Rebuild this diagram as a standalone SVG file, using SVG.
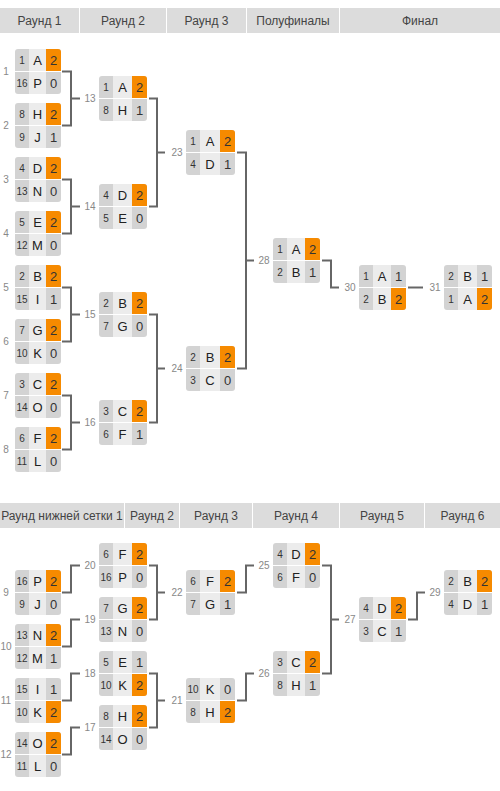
<svg xmlns="http://www.w3.org/2000/svg" width="500" height="791" viewBox="0 0 500 791">
<style>
text{font-family:"Liberation Sans",Arial,sans-serif}
.hb{fill:#dcdcdc}
.h{font-size:12px;fill:#444;text-anchor:middle}
.bg{fill:#d3d3d3}
.nm{fill:#ececec}
.win{fill:#f68a00}
.sep{fill:#fff}
.s{font-size:10px;fill:#333;text-anchor:middle}
.n{font-size:13px;fill:#222;text-anchor:middle}
.c{font-size:13px;fill:#333;text-anchor:middle}
.l{font-size:10px;fill:#888;text-anchor:middle}
.cn{fill:none;stroke:#666;stroke-width:2}
</style>
<rect width="500" height="791" fill="#fff"/>
<g id="header-upper">
<rect class="hb" x="0" y="8" width="79" height="25"/>
<rect class="hb" x="80" y="8" width="86" height="25"/>
<rect class="hb" x="167" y="8" width="79" height="25"/>
<rect class="hb" x="247" y="8" width="92" height="25"/>
<rect class="hb" x="340" y="8" width="160" height="25"/>
<text class="h" x="39.5" y="25">Раунд 1</text>
<text class="h" x="123" y="25">Раунд 2</text>
<text class="h" x="206.5" y="25">Раунд 3</text>
<text class="h" x="293" y="25">Полуфиналы</text>
<text class="h" x="420" y="25">Финал</text>
</g>
<g id="header-lower">
<rect class="hb" x="0" y="503" width="124" height="25"/>
<rect class="hb" x="125" y="503" width="54" height="25"/>
<rect class="hb" x="180" y="503" width="72" height="25"/>
<rect class="hb" x="253" y="503" width="86" height="25"/>
<rect class="hb" x="340" y="503" width="84" height="25"/>
<rect class="hb" x="425" y="503" width="75" height="25"/>
<text class="h" x="62" y="520">Раунд нижней сетки 1</text>
<text class="h" x="152" y="520">Раунд 2</text>
<text class="h" x="216" y="520">Раунд 3</text>
<text class="h" x="296" y="520">Раунд 4</text>
<text class="h" x="382" y="520">Раунд 5</text>
<text class="h" x="462.5" y="520">Раунд 6</text>
</g>
<g id="connectors">
<path class="cn" d="M62 71.5H71V125.5H62M71 98.5H80"/>
<path class="cn" d="M62 179.5H71V233.5H62M71 206.5H80"/>
<path class="cn" d="M62 287.5H71V341.5H62M71 314.5H80"/>
<path class="cn" d="M62 395.5H71V449.5H62M71 422.5H80"/>
<path class="cn" d="M149 98.5H157V206.5H149M157 152.5H165"/>
<path class="cn" d="M149 314.5H157V422.5H149M157 368.5H165"/>
<path class="cn" d="M237 152.5H246V368.5H237M246 260.5H254"/>
<path class="cn" d="M322 260.5H331V287.5H339"/>
<path class="cn" d="M408 287.5H423"/>
<path class="cn" d="M62 592.5H71V565.5H80"/>
<path class="cn" d="M62 646.5H71V619.5H80"/>
<path class="cn" d="M62 700.5H71V673.5H80"/>
<path class="cn" d="M62 754.5H71V727.5H80"/>
<path class="cn" d="M149 565.5H157V619.5H149M157 592.5H165"/>
<path class="cn" d="M149 673.5H157V727.5H149M157 700.5H165"/>
<path class="cn" d="M237 592.5H246V565.5H254"/>
<path class="cn" d="M237 700.5H246V673.5H254"/>
<path class="cn" d="M322 565.5H331V673.5H322M331 619.5H339"/>
<path class="cn" d="M408 619.5H417V592.5H425"/>
</g>
<g id="labels">
<text class="l" x="6" y="75">1</text>
<text class="l" x="6" y="129">2</text>
<text class="l" x="6" y="183">3</text>
<text class="l" x="6" y="237">4</text>
<text class="l" x="6" y="291">5</text>
<text class="l" x="6" y="345">6</text>
<text class="l" x="6" y="399">7</text>
<text class="l" x="6" y="453">8</text>
<text class="l" x="90" y="102">13</text>
<text class="l" x="90" y="210">14</text>
<text class="l" x="90" y="318">15</text>
<text class="l" x="90" y="426">16</text>
<text class="l" x="177" y="156">23</text>
<text class="l" x="177" y="372">24</text>
<text class="l" x="264" y="264">28</text>
<text class="l" x="350" y="291">30</text>
<text class="l" x="435" y="291">31</text>
<text class="l" x="6" y="596">9</text>
<text class="l" x="6" y="650">10</text>
<text class="l" x="6" y="704">11</text>
<text class="l" x="6" y="758">12</text>
<text class="l" x="90" y="569">20</text>
<text class="l" x="90" y="623">19</text>
<text class="l" x="90" y="677">18</text>
<text class="l" x="90" y="731">17</text>
<text class="l" x="177" y="596">22</text>
<text class="l" x="177" y="704">21</text>
<text class="l" x="264" y="569">25</text>
<text class="l" x="264" y="677">26</text>
<text class="l" x="350" y="623">27</text>
<text class="l" x="435" y="596">29</text>
</g>
<g id="m1" transform="translate(15,49)"><rect class="bg" width="46" height="45" rx="3"/><rect class="nm" x="14" width="17" height="45"/><path class="win" d="M31 0H43Q46 0 46 3V22H31Z"/><rect class="sep" y="22" width="46" height="1"/><text class="s" x="7" y="15">1</text><text class="n" x="22.5" y="15.5">A</text><text class="c" x="38.5" y="15.5">2</text><text class="s" x="7" y="38">16</text><text class="n" x="22.5" y="38.5">P</text><text class="c" x="38.5" y="38.5">0</text></g>
<g id="m2" transform="translate(15,103)"><rect class="bg" width="46" height="45" rx="3"/><rect class="nm" x="14" width="17" height="45"/><path class="win" d="M31 0H43Q46 0 46 3V22H31Z"/><rect class="sep" y="22" width="46" height="1"/><text class="s" x="7" y="15">8</text><text class="n" x="22.5" y="15.5">H</text><text class="c" x="38.5" y="15.5">2</text><text class="s" x="7" y="38">9</text><text class="n" x="22.5" y="38.5">J</text><text class="c" x="38.5" y="38.5">1</text></g>
<g id="m3" transform="translate(15,157)"><rect class="bg" width="46" height="45" rx="3"/><rect class="nm" x="14" width="17" height="45"/><path class="win" d="M31 0H43Q46 0 46 3V22H31Z"/><rect class="sep" y="22" width="46" height="1"/><text class="s" x="7" y="15">4</text><text class="n" x="22.5" y="15.5">D</text><text class="c" x="38.5" y="15.5">2</text><text class="s" x="7" y="38">13</text><text class="n" x="22.5" y="38.5">N</text><text class="c" x="38.5" y="38.5">0</text></g>
<g id="m4" transform="translate(15,211)"><rect class="bg" width="46" height="45" rx="3"/><rect class="nm" x="14" width="17" height="45"/><path class="win" d="M31 0H43Q46 0 46 3V22H31Z"/><rect class="sep" y="22" width="46" height="1"/><text class="s" x="7" y="15">5</text><text class="n" x="22.5" y="15.5">E</text><text class="c" x="38.5" y="15.5">2</text><text class="s" x="7" y="38">12</text><text class="n" x="22.5" y="38.5">M</text><text class="c" x="38.5" y="38.5">0</text></g>
<g id="m5" transform="translate(15,265)"><rect class="bg" width="46" height="45" rx="3"/><rect class="nm" x="14" width="17" height="45"/><path class="win" d="M31 0H43Q46 0 46 3V22H31Z"/><rect class="sep" y="22" width="46" height="1"/><text class="s" x="7" y="15">2</text><text class="n" x="22.5" y="15.5">B</text><text class="c" x="38.5" y="15.5">2</text><text class="s" x="7" y="38">15</text><text class="n" x="22.5" y="38.5">I</text><text class="c" x="38.5" y="38.5">1</text></g>
<g id="m6" transform="translate(15,319)"><rect class="bg" width="46" height="45" rx="3"/><rect class="nm" x="14" width="17" height="45"/><path class="win" d="M31 0H43Q46 0 46 3V22H31Z"/><rect class="sep" y="22" width="46" height="1"/><text class="s" x="7" y="15">7</text><text class="n" x="22.5" y="15.5">G</text><text class="c" x="38.5" y="15.5">2</text><text class="s" x="7" y="38">10</text><text class="n" x="22.5" y="38.5">K</text><text class="c" x="38.5" y="38.5">0</text></g>
<g id="m7" transform="translate(15,373)"><rect class="bg" width="46" height="45" rx="3"/><rect class="nm" x="14" width="17" height="45"/><path class="win" d="M31 0H43Q46 0 46 3V22H31Z"/><rect class="sep" y="22" width="46" height="1"/><text class="s" x="7" y="15">3</text><text class="n" x="22.5" y="15.5">C</text><text class="c" x="38.5" y="15.5">2</text><text class="s" x="7" y="38">14</text><text class="n" x="22.5" y="38.5">O</text><text class="c" x="38.5" y="38.5">0</text></g>
<g id="m8" transform="translate(15,427)"><rect class="bg" width="46" height="45" rx="3"/><rect class="nm" x="14" width="17" height="45"/><path class="win" d="M31 0H43Q46 0 46 3V22H31Z"/><rect class="sep" y="22" width="46" height="1"/><text class="s" x="7" y="15">6</text><text class="n" x="22.5" y="15.5">F</text><text class="c" x="38.5" y="15.5">2</text><text class="s" x="7" y="38">11</text><text class="n" x="22.5" y="38.5">L</text><text class="c" x="38.5" y="38.5">0</text></g>
<g id="m13" transform="translate(99,76)"><rect class="bg" width="48" height="45" rx="3"/><rect class="nm" x="14" width="19" height="45"/><path class="win" d="M33 0H45Q48 0 48 3V22H33Z"/><rect class="sep" y="22" width="48" height="1"/><text class="s" x="7" y="15">1</text><text class="n" x="23.5" y="15.5">A</text><text class="c" x="40.5" y="15.5">2</text><text class="s" x="7" y="38">8</text><text class="n" x="23.5" y="38.5">H</text><text class="c" x="40.5" y="38.5">1</text></g>
<g id="m14" transform="translate(99,184)"><rect class="bg" width="48" height="45" rx="3"/><rect class="nm" x="14" width="19" height="45"/><path class="win" d="M33 0H45Q48 0 48 3V22H33Z"/><rect class="sep" y="22" width="48" height="1"/><text class="s" x="7" y="15">4</text><text class="n" x="23.5" y="15.5">D</text><text class="c" x="40.5" y="15.5">2</text><text class="s" x="7" y="38">5</text><text class="n" x="23.5" y="38.5">E</text><text class="c" x="40.5" y="38.5">0</text></g>
<g id="m15" transform="translate(99,292)"><rect class="bg" width="48" height="45" rx="3"/><rect class="nm" x="14" width="19" height="45"/><path class="win" d="M33 0H45Q48 0 48 3V22H33Z"/><rect class="sep" y="22" width="48" height="1"/><text class="s" x="7" y="15">2</text><text class="n" x="23.5" y="15.5">B</text><text class="c" x="40.5" y="15.5">2</text><text class="s" x="7" y="38">7</text><text class="n" x="23.5" y="38.5">G</text><text class="c" x="40.5" y="38.5">0</text></g>
<g id="m16" transform="translate(99,400)"><rect class="bg" width="48" height="45" rx="3"/><rect class="nm" x="14" width="19" height="45"/><path class="win" d="M33 0H45Q48 0 48 3V22H33Z"/><rect class="sep" y="22" width="48" height="1"/><text class="s" x="7" y="15">3</text><text class="n" x="23.5" y="15.5">C</text><text class="c" x="40.5" y="15.5">2</text><text class="s" x="7" y="38">6</text><text class="n" x="23.5" y="38.5">F</text><text class="c" x="40.5" y="38.5">1</text></g>
<g id="m23" transform="translate(186,130)"><rect class="bg" width="49" height="45" rx="3"/><rect class="nm" x="14" width="20" height="45"/><path class="win" d="M34 0H46Q49 0 49 3V22H34Z"/><rect class="sep" y="22" width="49" height="1"/><text class="s" x="7" y="15">1</text><text class="n" x="24" y="15.5">A</text><text class="c" x="41.5" y="15.5">2</text><text class="s" x="7" y="38">4</text><text class="n" x="24" y="38.5">D</text><text class="c" x="41.5" y="38.5">1</text></g>
<g id="m24" transform="translate(186,346)"><rect class="bg" width="49" height="45" rx="3"/><rect class="nm" x="14" width="20" height="45"/><path class="win" d="M34 0H46Q49 0 49 3V22H34Z"/><rect class="sep" y="22" width="49" height="1"/><text class="s" x="7" y="15">2</text><text class="n" x="24" y="15.5">B</text><text class="c" x="41.5" y="15.5">2</text><text class="s" x="7" y="38">3</text><text class="n" x="24" y="38.5">C</text><text class="c" x="41.5" y="38.5">0</text></g>
<g id="m28" transform="translate(273,238)"><rect class="bg" width="47" height="45" rx="3"/><rect class="nm" x="14" width="18" height="45"/><path class="win" d="M32 0H44Q47 0 47 3V22H32Z"/><rect class="sep" y="22" width="47" height="1"/><text class="s" x="7" y="15">1</text><text class="n" x="23" y="15.5">A</text><text class="c" x="39.5" y="15.5">2</text><text class="s" x="7" y="38">2</text><text class="n" x="23" y="38.5">B</text><text class="c" x="39.5" y="38.5">1</text></g>
<g id="m30" transform="translate(359,265)"><rect class="bg" width="47" height="45" rx="3"/><rect class="nm" x="14" width="18" height="45"/><path class="win" d="M32 23H47V42Q47 45 44 45H32Z"/><rect class="sep" y="22" width="47" height="1"/><text class="s" x="7" y="15">1</text><text class="n" x="23" y="15.5">A</text><text class="c" x="39.5" y="15.5">1</text><text class="s" x="7" y="38">2</text><text class="n" x="23" y="38.5">B</text><text class="c" x="39.5" y="38.5">2</text></g>
<g id="m31" transform="translate(444,265)"><rect class="bg" width="48" height="45" rx="3"/><rect class="nm" x="14" width="19" height="45"/><path class="win" d="M33 23H48V42Q48 45 45 45H33Z"/><rect class="sep" y="22" width="48" height="1"/><text class="s" x="7" y="15">2</text><text class="n" x="23.5" y="15.5">B</text><text class="c" x="40.5" y="15.5">1</text><text class="s" x="7" y="38">1</text><text class="n" x="23.5" y="38.5">A</text><text class="c" x="40.5" y="38.5">2</text></g>
<g id="m9" transform="translate(15,570)"><rect class="bg" width="46" height="45" rx="3"/><rect class="nm" x="14" width="17" height="45"/><path class="win" d="M31 0H43Q46 0 46 3V22H31Z"/><rect class="sep" y="22" width="46" height="1"/><text class="s" x="7" y="15">16</text><text class="n" x="22.5" y="15.5">P</text><text class="c" x="38.5" y="15.5">2</text><text class="s" x="7" y="38">9</text><text class="n" x="22.5" y="38.5">J</text><text class="c" x="38.5" y="38.5">0</text></g>
<g id="m10" transform="translate(15,624)"><rect class="bg" width="46" height="45" rx="3"/><rect class="nm" x="14" width="17" height="45"/><path class="win" d="M31 0H43Q46 0 46 3V22H31Z"/><rect class="sep" y="22" width="46" height="1"/><text class="s" x="7" y="15">13</text><text class="n" x="22.5" y="15.5">N</text><text class="c" x="38.5" y="15.5">2</text><text class="s" x="7" y="38">12</text><text class="n" x="22.5" y="38.5">M</text><text class="c" x="38.5" y="38.5">1</text></g>
<g id="m11" transform="translate(15,678)"><rect class="bg" width="46" height="45" rx="3"/><rect class="nm" x="14" width="17" height="45"/><path class="win" d="M31 23H46V42Q46 45 43 45H31Z"/><rect class="sep" y="22" width="46" height="1"/><text class="s" x="7" y="15">15</text><text class="n" x="22.5" y="15.5">I</text><text class="c" x="38.5" y="15.5">1</text><text class="s" x="7" y="38">10</text><text class="n" x="22.5" y="38.5">K</text><text class="c" x="38.5" y="38.5">2</text></g>
<g id="m12" transform="translate(15,732)"><rect class="bg" width="46" height="45" rx="3"/><rect class="nm" x="14" width="17" height="45"/><path class="win" d="M31 0H43Q46 0 46 3V22H31Z"/><rect class="sep" y="22" width="46" height="1"/><text class="s" x="7" y="15">14</text><text class="n" x="22.5" y="15.5">O</text><text class="c" x="38.5" y="15.5">2</text><text class="s" x="7" y="38">11</text><text class="n" x="22.5" y="38.5">L</text><text class="c" x="38.5" y="38.5">0</text></g>
<g id="m20" transform="translate(99,543)"><rect class="bg" width="48" height="45" rx="3"/><rect class="nm" x="14" width="19" height="45"/><path class="win" d="M33 0H45Q48 0 48 3V22H33Z"/><rect class="sep" y="22" width="48" height="1"/><text class="s" x="7" y="15">6</text><text class="n" x="23.5" y="15.5">F</text><text class="c" x="40.5" y="15.5">2</text><text class="s" x="7" y="38">16</text><text class="n" x="23.5" y="38.5">P</text><text class="c" x="40.5" y="38.5">0</text></g>
<g id="m19" transform="translate(99,597)"><rect class="bg" width="48" height="45" rx="3"/><rect class="nm" x="14" width="19" height="45"/><path class="win" d="M33 0H45Q48 0 48 3V22H33Z"/><rect class="sep" y="22" width="48" height="1"/><text class="s" x="7" y="15">7</text><text class="n" x="23.5" y="15.5">G</text><text class="c" x="40.5" y="15.5">2</text><text class="s" x="7" y="38">13</text><text class="n" x="23.5" y="38.5">N</text><text class="c" x="40.5" y="38.5">0</text></g>
<g id="m18" transform="translate(99,651)"><rect class="bg" width="48" height="45" rx="3"/><rect class="nm" x="14" width="19" height="45"/><path class="win" d="M33 23H48V42Q48 45 45 45H33Z"/><rect class="sep" y="22" width="48" height="1"/><text class="s" x="7" y="15">5</text><text class="n" x="23.5" y="15.5">E</text><text class="c" x="40.5" y="15.5">1</text><text class="s" x="7" y="38">10</text><text class="n" x="23.5" y="38.5">K</text><text class="c" x="40.5" y="38.5">2</text></g>
<g id="m17" transform="translate(99,705)"><rect class="bg" width="48" height="45" rx="3"/><rect class="nm" x="14" width="19" height="45"/><path class="win" d="M33 0H45Q48 0 48 3V22H33Z"/><rect class="sep" y="22" width="48" height="1"/><text class="s" x="7" y="15">8</text><text class="n" x="23.5" y="15.5">H</text><text class="c" x="40.5" y="15.5">2</text><text class="s" x="7" y="38">14</text><text class="n" x="23.5" y="38.5">O</text><text class="c" x="40.5" y="38.5">0</text></g>
<g id="m22" transform="translate(186,570)"><rect class="bg" width="49" height="45" rx="3"/><rect class="nm" x="14" width="20" height="45"/><path class="win" d="M34 0H46Q49 0 49 3V22H34Z"/><rect class="sep" y="22" width="49" height="1"/><text class="s" x="7" y="15">6</text><text class="n" x="24" y="15.5">F</text><text class="c" x="41.5" y="15.5">2</text><text class="s" x="7" y="38">7</text><text class="n" x="24" y="38.5">G</text><text class="c" x="41.5" y="38.5">1</text></g>
<g id="m21" transform="translate(186,678)"><rect class="bg" width="49" height="45" rx="3"/><rect class="nm" x="14" width="20" height="45"/><path class="win" d="M34 23H49V42Q49 45 46 45H34Z"/><rect class="sep" y="22" width="49" height="1"/><text class="s" x="7" y="15">10</text><text class="n" x="24" y="15.5">K</text><text class="c" x="41.5" y="15.5">0</text><text class="s" x="7" y="38">8</text><text class="n" x="24" y="38.5">H</text><text class="c" x="41.5" y="38.5">2</text></g>
<g id="m25" transform="translate(273,543)"><rect class="bg" width="47" height="45" rx="3"/><rect class="nm" x="14" width="18" height="45"/><path class="win" d="M32 0H44Q47 0 47 3V22H32Z"/><rect class="sep" y="22" width="47" height="1"/><text class="s" x="7" y="15">4</text><text class="n" x="23" y="15.5">D</text><text class="c" x="39.5" y="15.5">2</text><text class="s" x="7" y="38">6</text><text class="n" x="23" y="38.5">F</text><text class="c" x="39.5" y="38.5">0</text></g>
<g id="m26" transform="translate(273,651)"><rect class="bg" width="47" height="45" rx="3"/><rect class="nm" x="14" width="18" height="45"/><path class="win" d="M32 0H44Q47 0 47 3V22H32Z"/><rect class="sep" y="22" width="47" height="1"/><text class="s" x="7" y="15">3</text><text class="n" x="23" y="15.5">C</text><text class="c" x="39.5" y="15.5">2</text><text class="s" x="7" y="38">8</text><text class="n" x="23" y="38.5">H</text><text class="c" x="39.5" y="38.5">1</text></g>
<g id="m27" transform="translate(359,597)"><rect class="bg" width="47" height="45" rx="3"/><rect class="nm" x="14" width="18" height="45"/><path class="win" d="M32 0H44Q47 0 47 3V22H32Z"/><rect class="sep" y="22" width="47" height="1"/><text class="s" x="7" y="15">4</text><text class="n" x="23" y="15.5">D</text><text class="c" x="39.5" y="15.5">2</text><text class="s" x="7" y="38">3</text><text class="n" x="23" y="38.5">C</text><text class="c" x="39.5" y="38.5">1</text></g>
<g id="m29" transform="translate(444,570)"><rect class="bg" width="48" height="45" rx="3"/><rect class="nm" x="14" width="19" height="45"/><path class="win" d="M33 0H45Q48 0 48 3V22H33Z"/><rect class="sep" y="22" width="48" height="1"/><text class="s" x="7" y="15">2</text><text class="n" x="23.5" y="15.5">B</text><text class="c" x="40.5" y="15.5">2</text><text class="s" x="7" y="38">4</text><text class="n" x="23.5" y="38.5">D</text><text class="c" x="40.5" y="38.5">1</text></g>
</svg>
